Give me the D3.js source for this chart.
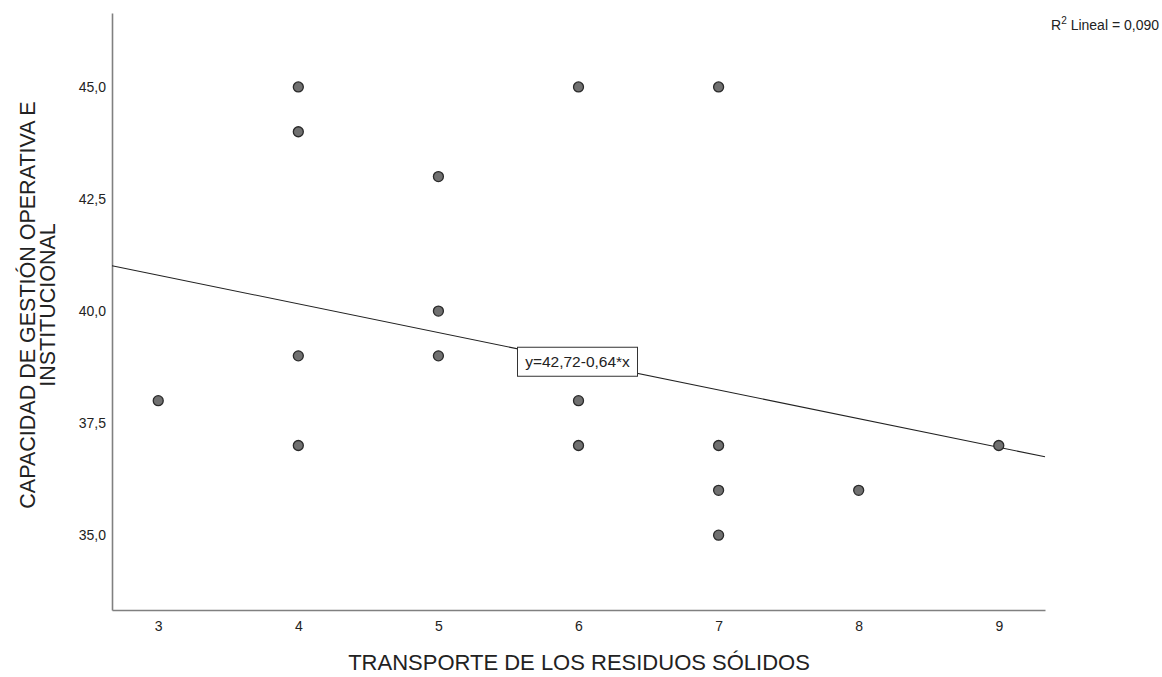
<!DOCTYPE html>
<html lang="en">
<head>
  <meta charset="UTF-8">
  <title>Dispersión</title>
  <style>
    body { margin: 0; background: #fff; font-family: "Liberation Sans", Arial, sans-serif; }
    svg text { fill: #222; }
  </style>
</head>
<body>
<script src="https://d3js.org/d3.v7.min.js"></script>
<script>
  // data
  const xValues = [3, 4, 4, 4, 4, 5, 5, 5, 6, 6, 6, 7, 7, 7, 7, 8, 9];
  const yValues = [38, 45, 44, 39, 37, 43, 40, 39, 45, 38, 37, 45, 37, 36, 35, 36, 37];
  const xTicks = [3, 4, 5, 6, 7, 8, 9];
  const yTicks = [35, 37.5, 40, 42.5, 45];
  const intercept = 42.72;
  const slope = -0.64;

  const width = 1162, height = 677;
  const plotLeft = 112, plotRight = 1045, plotTop = 13, plotBottom = 610;

  const svg = d3.select('body').append('svg')
    .attr('width', width)
    .attr('height', height);

  const x = d3.scaleLinear().domain([2.67, 9.33]).range([plotLeft, plotRight]);
  const y = d3.scaleLinear().domain([33.33, 46.65]).range([plotBottom, plotTop]);

  // axes without tick marks
  const xAxis = svg.append('g')
    .attr('transform', 'translate(0,' + plotBottom + ')')
    .call(d3.axisBottom(x).tickValues(xTicks).tickSize(0).tickPadding(11).tickFormat(d3.format('d')));
  const yAxis = svg.append('g')
    .attr('transform', 'translate(' + plotLeft + ',0)')
    .call(d3.axisLeft(y).tickValues(yTicks).tickSize(0).tickPadding(6)
      .tickFormat(d => d.toFixed(1).replace('.', ',')));
  [xAxis, yAxis].forEach(g => {
    g.select('.domain').attr('stroke', '#808080').attr('stroke-width', 1.6);
    g.selectAll('text').style('font-family', '"Liberation Sans", Arial, sans-serif')
      .style('font-size', '14px').attr('fill', '#222');
  });

  // fit line
  const x0 = x.domain()[0], x1 = x.domain()[1];
  svg.append('line')
    .attr('x1', x(x0)).attr('y1', y(intercept + slope * x0))
    .attr('x2', x(x1)).attr('y2', y(intercept + slope * x1))
    .attr('stroke', '#222').attr('stroke-width', 1.1);

  // points
  svg.selectAll('circle.pt')
    .data(xValues.map((v, i) => [v, yValues[i]]))
    .enter().append('circle')
    .attr('class', 'pt')
    .attr('cx', d => x(d[0]))
    .attr('cy', d => y(d[1]))
    .attr('r', 5)
    .attr('fill', '#707070')
    .attr('stroke', '#2a2a2a')
    .attr('stroke-width', 1.3);

  // equation label
  const lx = x(6), ly = y(intercept + slope * 6);
  svg.append('rect')
    .attr('x', lx - 61).attr('y', ly - 14)
    .attr('width', 120).attr('height', 29)
    .attr('fill', '#fff').attr('stroke', '#333').attr('stroke-width', 1);
  svg.append('text')
    .attr('x', lx - 1).attr('y', ly + 6)
    .attr('text-anchor', 'middle')
    .style('font-size', '15.5px')
    .text('y=42,72-0,64*x');

  // R2 note
  const r2 = svg.append('text')
    .attr('x', 1159).attr('y', 30)
    .attr('text-anchor', 'end')
    .style('font-size', '14px');
  r2.append('tspan').text('R');
  r2.append('tspan').attr('dy', -6).style('font-size', '10px').text('2');
  r2.append('tspan').attr('dy', 6).text(' Lineal = 0,090');

  // axis titles
  svg.append('text')
    .attr('x', 579).attr('y', 670)
    .attr('text-anchor', 'middle')
    .style('font-size', '22px')
    .text('TRANSPORTE DE LOS RESIDUOS SÓLIDOS');

  const yt = svg.append('text')
    .attr('transform', 'translate(35,305) rotate(-90)')
    .attr('text-anchor', 'middle')
    .style('font-size', '21.5px');
  yt.append('tspan').attr('x', 0).attr('dy', 0).text('CAPACIDAD DE GESTIÓN OPERATIVA E');
  yt.append('tspan').attr('x', 0).attr('dy', 20).text('INSTITUCIONAL');
</script>
</body>
</html>
